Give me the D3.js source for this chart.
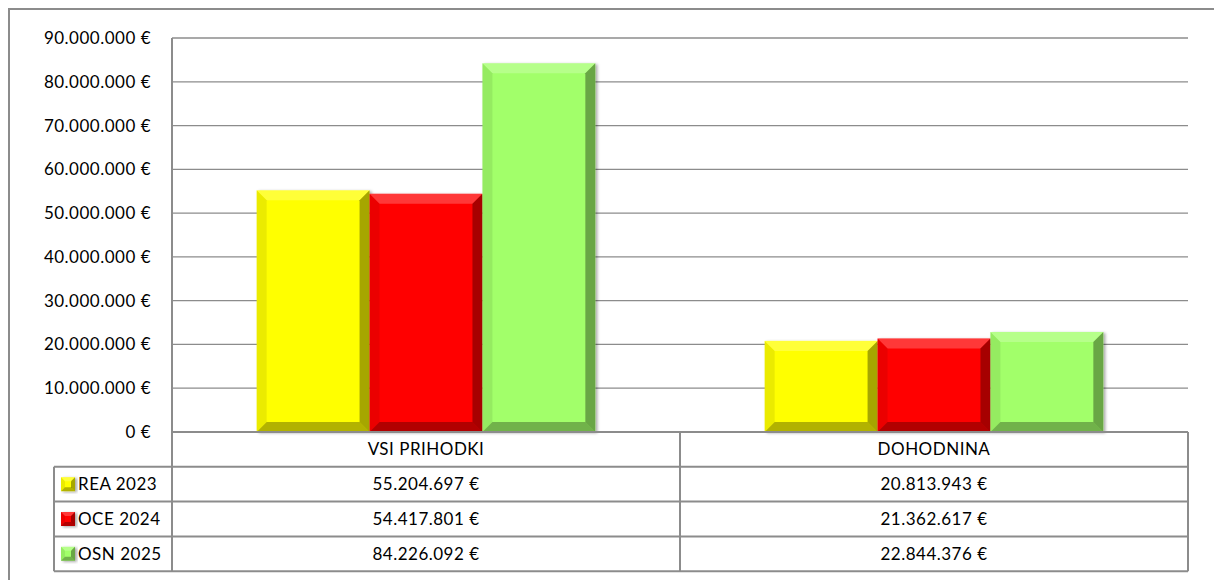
<!DOCTYPE html>
<html lang="sl">
<head>
<meta charset="UTF-8"/>
<title>Prihodki</title>
<script src="https://cdn.jsdelivr.net/npm/d3@7"></script>
<style>
  body { margin: 0; background: #fff; }
  svg text { font-family: Lato, "Open Sans", sans-serif; font-size: 17px; letter-spacing: 0.5px; fill: #000; }
</style>
</head>
<body>
<svg id="chart" width="1214" height="580"></svg>
<script>
// data
var categories = ["VSI PRIHODKI", "DOHODNINA"];
var seriesNames = ["REA 2023", "OCE 2024", "OSN 2025"];
var seriesColors = ["#ffff00", "#ff0000", "#a2ff6a"];
var values = [
  [55204697, 20813943],  // REA 2023
  [54417801, 21362617],  // OCE 2024
  [84226092, 22844376]   // OSN 2025
];
var yTicks = [0, 10000000, 20000000, 30000000, 40000000, 50000000, 60000000, 70000000, 80000000, 90000000];

// layout
var plot = {left: 172, right: 1188, top: 38, bottom: 432};
var rowH = 34.8;
var legendLeft = 54;
var gridCol = "#8c8c8c";

var svg = d3.select("#chart");

// number format 55.204.697 €
var fmt = function(v) { return d3.format(",.0f")(v).replace(/,/g, ".") + " €"; };

var x0 = d3.scaleBand().domain(categories).range([plot.left, plot.right]);
var x1 = d3.scaleBand().domain(seriesNames).range([0, x0.bandwidth()]).paddingOuter(0.75).paddingInner(0);
var y = d3.scaleLinear().domain([0, 90000000]).range([plot.bottom, plot.top]);

// shadow filter
var defs = svg.append("defs");
var f = defs.append("filter").attr("id", "shadow").attr("x", "-10%").attr("y", "-10%").attr("width", "130%").attr("height", "130%");
f.append("feDropShadow").attr("dx", 2).attr("dy", 1).attr("stdDeviation", 1.5).attr("flood-color", "#000").attr("flood-opacity", 0.35);

// outer frame
svg.append("rect").attr("x", 9).attr("y", 9).attr("width", 1220).attr("height", 600)
  .attr("fill", "none").attr("stroke", gridCol).attr("stroke-width", 2);

// gridlines
svg.append("g").selectAll("line").data(yTicks).join("line")
  .attr("x1", plot.left).attr("x2", plot.right)
  .attr("y1", d => y(d)).attr("y2", d => y(d))
  .attr("stroke", gridCol).attr("stroke-width", 1.3);

// y axis labels
svg.append("g").selectAll("text").data(yTicks).join("text")
  .attr("x", 151).attr("y", d => y(d)).attr("dy", "0.35em")
  .attr("text-anchor", "end").text(fmt);

// bevelled bars
function bevel(g, x, yy, w, h, color, b) {
  b = Math.min(b, h / 2, w / 2);
  var X1 = x + w, Y1 = yy + h;
  g.append("rect").attr("x", x).attr("y", yy).attr("width", w).attr("height", h).attr("fill", color)
    .attr("filter", "url(#shadow)");
  var poly = function(pts, fill, op) {
    g.append("polygon").attr("points", pts.map(p => p.join(",")).join(" ")).attr("fill", fill).attr("fill-opacity", op);
  };
  poly([[x, yy], [X1, yy], [X1 - b, yy + b], [x + b, yy + b]], "#fff", 0.22);
  poly([[x, yy], [x + b, yy + b], [x + b, Y1 - b], [x, Y1]], "#000", 0.08);
  poly([[X1, yy], [X1, Y1], [X1 - b, Y1 - b], [X1 - b, yy + b]], "#000", 0.35);
  poly([[x, Y1], [x + b, Y1 - b], [X1 - b, Y1 - b], [X1, Y1]], "#000", 0.3);
}

var barsG = svg.append("g");
seriesNames.forEach(function(s, si) {
  categories.forEach(function(c, ci) {
    var v = values[si][ci];
    bevel(barsG, x0(c) + x1(s), y(v), x1.bandwidth(), y(0) - y(v), seriesColors[si], 10);
  });
});

// data table
var tableTop = plot.bottom;
var tableBottom = tableTop + rowH * 4;
var tg = svg.append("g");
// vertical lines
tg.append("line").attr("x1", plot.left).attr("x2", plot.left).attr("y1", plot.top).attr("y2", tableBottom)
  .attr("stroke", gridCol).attr("stroke-width", 2);
tg.append("line").attr("x1", x0(categories[1])).attr("x2", x0(categories[1])).attr("y1", tableTop).attr("y2", tableBottom)
  .attr("stroke", gridCol).attr("stroke-width", 2);
tg.append("line").attr("x1", plot.right).attr("x2", plot.right).attr("y1", tableTop).attr("y2", tableBottom)
  .attr("stroke", gridCol).attr("stroke-width", 2);
tg.append("line").attr("x1", legendLeft).attr("x2", legendLeft).attr("y1", tableTop + rowH).attr("y2", tableBottom)
  .attr("stroke", gridCol).attr("stroke-width", 2);
// horizontal lines
tg.append("line").attr("x1", plot.left).attr("x2", plot.right).attr("y1", tableTop).attr("y2", tableTop)
  .attr("stroke", gridCol).attr("stroke-width", 2);
[1, 2, 3, 4].forEach(function(i) {
  tg.append("line").attr("x1", legendLeft).attr("x2", plot.right)
    .attr("y1", tableTop + rowH * i).attr("y2", tableTop + rowH * i)
    .attr("stroke", gridCol).attr("stroke-width", 2);
});

// header
categories.forEach(function(c) {
  tg.append("text").attr("x", x0(c) + x0.bandwidth() / 2).attr("y", tableTop + rowH / 2).attr("dy", "0.35em")
    .attr("text-anchor", "middle").text(c);
});

// rows
seriesNames.forEach(function(s, si) {
  var ry = tableTop + rowH * (si + 1);
  bevel(tg, 61, ry + rowH / 2 - 7, 14, 14, seriesColors[si], 4);
  tg.append("text").attr("x", 78).attr("y", ry + rowH / 2).attr("dy", "0.35em").text(s);
  categories.forEach(function(c, ci) {
    tg.append("text").attr("x", x0(c) + x0.bandwidth() / 2).attr("y", ry + rowH / 2).attr("dy", "0.35em")
      .attr("text-anchor", "middle").text(fmt(values[si][ci]));
  });
});
</script>
</body>
</html>
